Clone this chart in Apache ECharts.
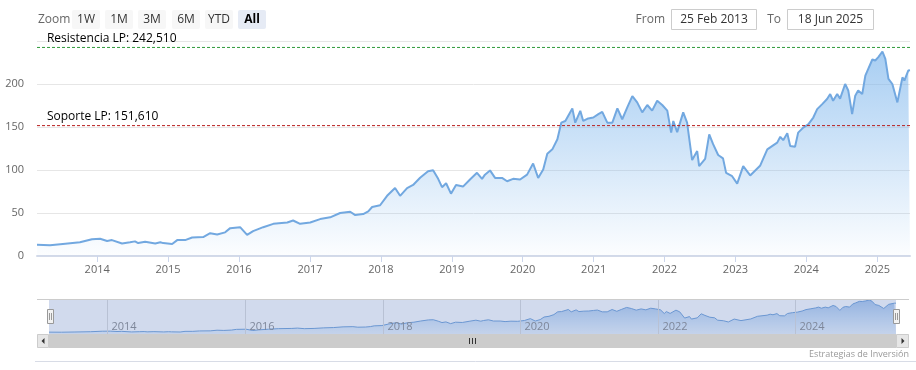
<!DOCTYPE html>
<html>
<head>
<meta charset="utf-8">
<script src="https://cdn.jsdelivr.net/npm/echarts@6/dist/echarts.min.js"></script>
<style>
html,body{margin:0;padding:0;background:#fff;}
#chart{width:916px;height:370px;}
</style>
</head>
<body>
<div id="chart"></div>
<script>
// ---- data ----
const dates = [
  '2013-02-25','2013-05-03','2013-07-08','2013-10-04','2013-12-05',
  '2014-01-16','2014-02-21','2014-03-18','2014-05-09','2014-06-19','2014-07-15','2014-07-31','2014-09-05','2014-10-27','2014-11-22','2014-12-07',
  '2015-01-22','2015-02-17','2015-03-30','2015-05-05','2015-07-01','2015-08-06','2015-09-11','2015-10-22','2015-11-17',
  '2016-01-07','2016-02-12','2016-03-14','2016-05-05','2016-06-26','2016-09-06','2016-10-06','2016-11-11',
  '2017-01-02','2017-02-22','2017-04-15','2017-06-05','2017-07-27','2017-08-22','2017-10-02','2017-10-28','2017-11-17','2017-12-28',
  '2018-02-02','2018-03-15','2018-04-10','2018-05-16','2018-06-16','2018-07-22','2018-09-01','2018-09-27','2018-10-23','2018-11-12','2018-12-03','2018-12-28',
  '2019-01-23','2019-02-28','2019-04-05','2019-05-11','2019-06-06','2019-06-21','2019-07-17','2019-08-12','2019-09-17','2019-10-13','2019-11-13','2019-12-19',
  '2020-01-24','2020-02-24','2020-03-21','2020-04-16','2020-05-07','2020-06-02','2020-06-28','2020-07-18','2020-08-08','2020-09-13','2020-09-28','2020-10-24','2020-11-08','2020-12-04','2020-12-30',
  '2021-01-25','2021-02-14','2021-03-12','2021-04-07','2021-05-03','2021-05-28','2021-06-23','2021-07-19','2021-08-13','2021-09-08','2021-10-04','2021-10-29','2021-11-24','2021-12-20',
  '2022-01-15','2022-02-04','2022-02-15','2022-03-07','2022-04-07','2022-04-27','2022-05-23','2022-06-18','2022-06-28','2022-07-29','2022-08-19','2022-09-08','2022-10-04','2022-10-29','2022-11-14','2022-12-15',
  '2023-01-10','2023-02-10','2023-03-18','2023-05-09','2023-06-14','2023-08-04','2023-08-20','2023-09-04','2023-09-25','2023-10-10','2023-11-04','2023-11-20','2023-12-16',
  '2024-01-11','2024-02-06','2024-02-26','2024-03-23','2024-04-17','2024-05-03','2024-05-18','2024-06-08','2024-06-23','2024-07-19','2024-08-04','2024-08-24','2024-09-09','2024-09-24','2024-10-15','2024-10-31','2024-11-15','2024-12-06','2024-12-21',
  '2025-01-06','2025-01-27','2025-02-11','2025-02-27','2025-03-19','2025-04-14','2025-05-10','2025-05-20','2025-06-09','2025-06-18'
];
const prices = [
  13,12.5,14,16,19.5,
  20,17.5,18.5,14.5,16,17,15,16.5,14.5,16,15,
  14,18.5,18.5,21.5,22,26.5,25,27.5,32.4,
  33.5,24.5,29,33.5,37.4,39,41.3,37.4,
  39,42.9,45,50,51.5,47.6,48.7,51.8,57,59,
  70,79,70,79,82.6,91,98.6,99.8,89.7,80,84.6,72.5,
  82.6,80.7,89,96.7,89.7,94.6,99.5,90.8,90.8,86.9,89.7,88.9,
  94.6,107.6,90.8,100.6,119,124,135.7,155,157,171.6,155,168.8,157,160,161,
  165,167.6,155,155,171.6,159,172.8,186,178.6,167,175.6,169,180.5,175.6,
  169,143.5,157,144,167,155,111.5,122,104.5,113,141.5,130,117.4,113.5,96.7,92.8,
  84.2,104.5,93.7,105.3,124,131.8,138.6,134.7,142.7,127.8,127,143.5,149.3,
  153,161,170.8,176.6,182.5,188.3,180.5,188.3,183,200,192.5,165,186.4,192.5,188.3,209.7,217.5,228.5,227.3,
  231.2,237.8,229.2,206,200,178.6,207.7,204,215.6,216
];
const resistanceValue = 242.51;
const resistanceLabel = 'Resistencia LP: 242,510';
const supportValue = 151.61;
const supportLabel = 'Soporte LP: 151,610';
const yTicks = [0, 50, 100, 150, 200, 250];
const navigatorYears = ['2014', '2016', '2018', '2020', '2022', '2024'];
const zoomButtons = ['1W', '1M', '3M', '6M', 'YTD', 'All'];
const fromDate = '25 Feb 2013';
const toDate = '18 Jun 2025';
const startDate = '2013-02-25';
const endDate = '2025-06-18';
const credit = 'Estrategias de Inversión';

// ---- chart ----
const seriesData = dates.map((d, i) => [d, prices[i]]);
const FONT = 'Open Sans';
const YEAR = 365.25 * 24 * 3600 * 1000;

const chart = echarts.init(document.getElementById('chart'), null, {renderer: 'canvas'});

function levelLine(value, text, color) {
  return {
    type: 'line', xAxisIndex: 0, yAxisIndex: 0, silent: true, z: 5,
    showSymbol: true, symbol: 'circle', symbolSize: 0.1,
    itemStyle: {color: color, opacity: 1},
    lineStyle: {color: color, type: [3, 2], width: 1},
    label: {show: false},
    labelLayout: {hideOverlap: false},
    data: [
      {value: [startDate, value],
        label: {show: true, formatter: text, position: [10, -15], align: 'left', verticalAlign: 'top',
          color: '#000', fontSize: 12, fontFamily: FONT}},
      {value: [endDate, value]}
    ]
  };
}

const option = {
  animation: false,
  backgroundColor: '#fff',
  textStyle: {fontFamily: FONT},
  grid: [
    {left: 37, right: 6, top: 41, height: 215},
    {left: 49, width: 847, top: 299, height: 35}
  ],
  xAxis: [
    {
      type: 'time', gridIndex: 0, min: startDate, max: endDate,
      minInterval: YEAR * 0.99, maxInterval: YEAR * 1.01,
      axisLine: {lineStyle: {color: '#d3dae9', width: 2}},
      axisTick: {show: true, length: 6, lineStyle: {color: '#ccd6eb'}},
      axisLabel: {formatter: '{yyyy}', color: '#666', fontSize: 11, margin: 8,
        showMinLabel: false, showMaxLabel: false, hideOverlap: false},
      splitLine: {show: false}
    },
    {
      type: 'time', gridIndex: 1, min: startDate, max: endDate,
      axisLine: {show: false}, axisTick: {show: false},
      axisLabel: {show: false}, splitLine: {show: false}
    }
  ],
  yAxis: [
    {
      type: 'value', gridIndex: 0, min: yTicks[0], max: yTicks[yTicks.length - 1], interval: 50,
      axisLine: {show: false}, axisTick: {show: false},
      axisLabel: {color: '#666', fontSize: 11, margin: 13, showMaxLabel: false,
        verticalAlign: 'middle', padding: [0, 0, 8, 0]},
      splitLine: {lineStyle: {color: '#e6e6e6'}}
    },
    {
      type: 'value', gridIndex: 1, min: 0, max: 245, show: false,
      splitLine: {show: false}
    }
  ],
  series: [
    {
      type: 'line', xAxisIndex: 0, yAxisIndex: 0, data: seriesData,
      showSymbol: false, silent: true,
      lineStyle: {color: '#72a8e0', width: 2},
      areaStyle: {color: new echarts.graphic.LinearGradient(0, 0, 0, 1, [
        {offset: 0, color: 'rgba(124,181,236,0.95)'},
        {offset: 1, color: 'rgba(124,181,236,0.03)'}
      ])}
    },
    levelLine(resistanceValue, resistanceLabel, '#2f9a3a'),
    levelLine(supportValue, supportLabel, '#b81e1e'),
    {
      type: 'line', xAxisIndex: 1, yAxisIndex: 1, data: seriesData,
      showSymbol: false, silent: true,
      lineStyle: {color: '#6d9fd8', width: 1},
      areaStyle: {color: new echarts.graphic.LinearGradient(0, 0, 0, 1, [
        {offset: 0, color: 'rgba(110,160,225,0.85)'},
        {offset: 1, color: 'rgba(124,181,236,0.2)'}
      ])}
    }
  ]
};
chart.setOption(option);

const graphics = [];
// navigator year gridlines + labels through the navigator x scale
navigatorYears.forEach(y => {
  const px = Math.round(chart.convertToPixel({xAxisIndex: 1}, y + '-01-01')) + 0.5;
  graphics.push({type: 'line', z: 40, shape: {x1: px, y1: 299, x2: px, y2: 334},
    style: {stroke: '#dcdcdc', lineWidth: 1}});
  graphics.push({type: 'text', z: 40, x: px + 4, y: 327,
    style: {text: y, fill: '#888', font: '11px "' + FONT + '"', align: 'left', verticalAlign: 'middle'}});
});
// range selector
graphics.push({type: 'text', z: 100, x: 38, y: 19.5,
  style: {text: 'Zoom', fill: '#666', font: '12px "' + FONT + '"', verticalAlign: 'middle'}});
const btnX = [72, 105, 138, 172, 205, 238];
zoomButtons.forEach((b, i) => {
  const sel = b === 'All';
  graphics.push({type: 'rect', z: 100, shape: {x: btnX[i], y: 10, width: 28, height: 19, r: 2},
    style: {fill: sel ? '#e6ebf5' : '#f7f7f7'}});
  graphics.push({type: 'text', z: 101, x: btnX[i] + 14, y: 19.5,
    style: {text: b, fill: sel ? '#000' : '#333', font: (sel ? 'bold ' : '') + '12px "' + FONT + '"',
      align: 'center', verticalAlign: 'middle'}});
});
graphics.push({type: 'text', z: 100, x: 665, y: 19.5,
  style: {text: 'From', fill: '#666', font: '12px "' + FONT + '"', align: 'right', verticalAlign: 'middle'}});
graphics.push({type: 'rect', z: 100, shape: {x: 671.5, y: 9.5, width: 85, height: 20},
  style: {fill: '#fff', stroke: '#cccccc', lineWidth: 1}});
graphics.push({type: 'text', z: 101, x: 714, y: 19.5,
  style: {text: fromDate, fill: '#333', font: '12px "' + FONT + '"', align: 'center', verticalAlign: 'middle'}});
graphics.push({type: 'text', z: 100, x: 781, y: 19.5,
  style: {text: 'To', fill: '#666', font: '12px "' + FONT + '"', align: 'right', verticalAlign: 'middle'}});
graphics.push({type: 'rect', z: 100, shape: {x: 787.5, y: 9.5, width: 86, height: 20},
  style: {fill: '#fff', stroke: '#cccccc', lineWidth: 1}});
graphics.push({type: 'text', z: 101, x: 830.5, y: 19.5,
  style: {text: toDate, fill: '#333', font: '12px "' + FONT + '"', align: 'center', verticalAlign: 'middle'}});

// navigator mask + outline + handles
graphics.push({type: 'rect', z: 50, shape: {x: 49, y: 299, width: 847, height: 35},
  style: {fill: 'rgba(102,133,194,0.3)'}});
graphics.push({type: 'line', z: 51, shape: {x1: 37, y1: 299.5, x2: 909, y2: 299.5},
  style: {stroke: '#cccccc', lineWidth: 1}});
[47, 893].forEach(hx => {
  graphics.push({type: 'rect', z: 60, shape: {x: hx + 0.5, y: 309.5, width: 6, height: 14},
    style: {fill: '#f2f2f2', stroke: '#999999', lineWidth: 1}});
  graphics.push({type: 'line', z: 61, shape: {x1: hx + 2.5, y1: 313, x2: hx + 2.5, y2: 320},
    style: {stroke: '#999999', lineWidth: 1}});
  graphics.push({type: 'line', z: 61, shape: {x1: hx + 4.5, y1: 313, x2: hx + 4.5, y2: 320},
    style: {stroke: '#999999', lineWidth: 1}});
});
// scrollbar
graphics.push({type: 'rect', z: 50, shape: {x: 37, y: 334, width: 872, height: 14}, style: {fill: '#f2f2f2'}});
graphics.push({type: 'rect', z: 51, shape: {x: 49, y: 334, width: 847, height: 14}, style: {fill: '#cccccc'}});
graphics.push({type: 'rect', z: 51, shape: {x: 37.5, y: 334.5, width: 11, height: 13},
  style: {fill: '#e6e6e6', stroke: '#cccccc', lineWidth: 1}});
graphics.push({type: 'rect', z: 51, shape: {x: 896.5, y: 334.5, width: 12, height: 13},
  style: {fill: '#e6e6e6', stroke: '#cccccc', lineWidth: 1}});
graphics.push({type: 'polygon', z: 52, shape: {points: [[44.5, 338], [44.5, 344], [41.5, 341]]}, style: {fill: '#333'}});
graphics.push({type: 'polygon', z: 52, shape: {points: [[901.5, 338], [901.5, 344], [904.5, 341]]}, style: {fill: '#333'}});
[469.5, 472.5, 475.5].forEach(gx => {
  graphics.push({type: 'line', z: 52, shape: {x1: gx, y1: 338, x2: gx, y2: 344}, style: {stroke: '#333', lineWidth: 1}});
});
// credits + bottom border
graphics.push({type: 'text', z: 100, x: 909, y: 354,
  style: {text: credit, fill: '#999', font: '9px "' + FONT + '"', align: 'right', verticalAlign: 'middle'}});
graphics.push({type: 'line', z: 100, shape: {x1: 35, y1: 361.5, x2: 916, y2: 361.5},
  style: {stroke: '#d8dce6', lineWidth: 1}});

chart.setOption({graphic: graphics});
</script>
</body>
</html>
